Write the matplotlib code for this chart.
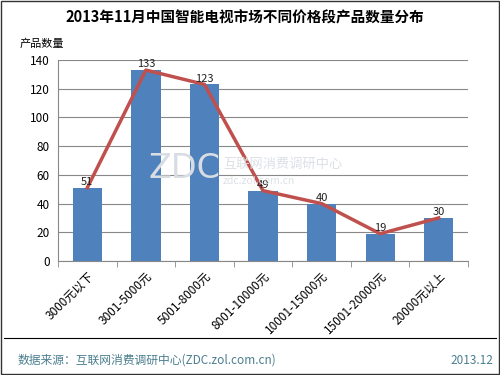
import matplotlib
matplotlib.use("Agg")
import matplotlib.pyplot as plt
from matplotlib.patches import Rectangle

plt.rcParams['font.family'] = ['Noto Sans CJK SC', 'DejaVu Sans']

# Data
categories = ["3000元以下", "3001-5000元", "5001-8000元", "8001-10000元",
              "10001-15000元", "15001-20000元", "20000元以上"]
counts = [51, 133, 123, 49, 40, 19, 30]
yticks = [0, 20, 40, 60, 80, 100, 120, 140]

title = "2013年11月中国智能电视市场不同价格段产品数量分布"
ylabel = "产品数量"
source = "数据来源：互联网消费调研中心(ZDC.zol.com.cn)"
date = "2013.12"

fig = plt.figure(figsize=(5, 3.75), dpi=100)
ax = fig.add_axes([58 / 500, 1 - 261 / 375, 410 / 500, 201 / 375])

x = list(range(len(categories)))
ax.bar(x, counts, width=0.5, color="#4F81BD", zorder=2)
ax.plot(x, counts, color="#C0504D", linewidth=2.5, zorder=3)
for xi, v in zip(x, counts):
    ax.text(xi, v + 0.5, str(v), ha="center", va="bottom", fontsize=8,
            color="#222222", zorder=4)

ax.set_xlim(-0.5, len(categories) - 0.5)
ax.set_ylim(0, 140)
ax.set_yticks(yticks)
ax.yaxis.grid(True, color="#888888", linewidth=0.8, zorder=0)
ax.tick_params(axis="y", length=0, labelsize=8.5, pad=6)
ax.set_xticks(x)
ax.set_xticklabels(categories, rotation=45, ha="right", rotation_mode="anchor",
                   fontsize=8.5)
ax.set_xticks([i - 0.5 for i in range(len(categories) + 1)], minor=True)
ax.tick_params(axis="x", which="major", length=0, pad=6)
ax.tick_params(axis="x", which="minor", length=4, color="#888888")
for s in ["top", "right"]:
    ax.spines[s].set_visible(False)
ax.spines["left"].set_color("#888888")
ax.spines["bottom"].set_color("#888888")

# watermark
fig.text(148 / 500, 1 - 169 / 375, "ZDC", fontsize=24, color="#d8dde4",
         va="center", ha="left", family="DejaVu Sans", zorder=1)
fig.text(223 / 500, 1 - 164 / 375, "互联网消费调研中心", fontsize=9.5,
         color="#dce0e6", va="center", zorder=1)
fig.text(223 / 500, 1 - 181 / 375, "zdc.zol.com.cn", fontsize=7.5,
         color="#dce0e6", va="center", zorder=1)

fig.text(0.49, 1 - 18 / 375, title, fontsize=10.5, fontweight="bold",
         ha="center", va="center")
fig.text(20 / 500, 1 - 44 / 375, ylabel, fontsize=8, ha="left", va="center")

# footer
fig.add_artist(plt.Line2D([4 / 500, 496 / 500], [1 - 338 / 375, 1 - 338 / 375],
                          color="black", linewidth=0.8))
fig.text(18 / 500, 1 - 360 / 375, source, fontsize=8.5, color="#4A7E8E",
         ha="left", va="center")
fig.text(493 / 500, 1 - 360 / 375, date, fontsize=8.5, color="#4A7E8E",
         ha="right", va="center")

# outer border
fig.add_artist(Rectangle((0.002, 0.003), 0.996, 0.994, transform=fig.transFigure,
                         fill=False, edgecolor="#333333", linewidth=1))

fig.savefig("out.png", dpi=100)
